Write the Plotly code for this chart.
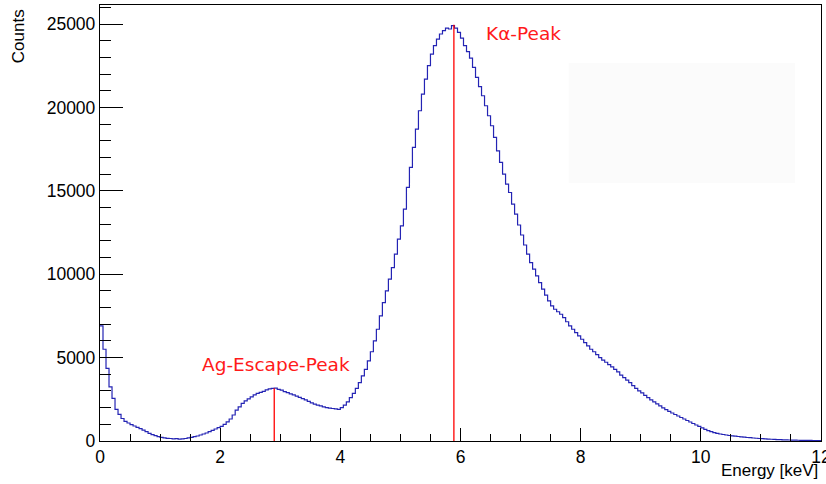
import plotly.graph_objects as go

# ---- data ----
bin_width_kev = 0.05
counts = [
    6900, 5500, 4350, 3250, 2550, 1900, 1600, 1350, 1180, 1080,   # 0.0 - 0.5
    980, 900, 820, 740, 650, 560, 460, 380, 320, 260,             # 0.5 - 1.0
    220, 190, 160, 150, 130, 140, 110, 130, 150, 190,             # 1.0 - 1.5
    220, 260, 300, 360, 420, 480, 560, 640, 720, 800,             # 1.5 - 2.0
    880, 1000, 1150, 1320, 1560, 1850, 2050, 2250, 2400, 2530,    # 2.0 - 2.5
    2650, 2770, 2850, 2920, 2980, 3070, 3120, 3150, 3170, 3100,   # 2.5 - 3.0
    3050, 2960, 2900, 2830, 2770, 2690, 2610, 2540, 2460, 2380,   # 3.0 - 3.5
    2290, 2210, 2150, 2100, 2040, 2000, 1970, 1950, 1930, 1900,   # 3.5 - 4.0
    2000, 2150, 2350, 2600, 2850, 3150, 3500, 3900, 4300, 4800,   # 4.0 - 4.5
    5350, 6000, 6700, 7500, 8300, 9000, 9700, 10400, 11200, 12100,  # 4.5 - 5.0
    12900, 13900, 15200, 16400, 17600, 18700, 19800, 20800, 21700, 22500,  # 5.0 - 5.5
    23200, 23700, 24100, 24400, 24600, 24750, 24700, 24900, 24750, 24500,  # 5.5 - 6.0
    24150, 23700, 23350, 22950, 22400, 21800, 21250, 20700, 20100, 19500,  # 6.0 - 6.5
    18900, 18200, 17400, 16700, 16000, 15400, 14900, 14200, 13600, 12950,  # 6.5 - 7.0
    12350, 11750, 11200, 10700, 10300, 9900, 9500, 9100, 8750, 8400,       # 7.0 - 7.5
    8100, 7900, 7750, 7600, 7400, 7150, 6900, 6700, 6500, 6300,   # 7.5 - 8.0
    6100, 5900, 5700, 5500, 5350, 5180, 5000, 4850, 4720, 4580,   # 8.0 - 8.5
    4450, 4300, 4150, 3950, 3800, 3650, 3500, 3320, 3150, 3000,   # 8.5 - 9.0
    2880, 2740, 2600, 2470, 2340, 2220, 2100, 1980, 1880, 1780,   # 9.0 - 9.5
    1680, 1590, 1500, 1410, 1320, 1230, 1140, 1050, 960, 880,     # 9.5 - 10.0
    790, 700, 620, 560, 500, 460, 420, 390, 360, 330,             # 10.0 - 10.5
    310, 290, 270, 250, 230, 210, 200, 180, 165, 150,             # 10.5 - 11.0
    140, 125, 115, 105, 95, 85, 80, 70, 65, 60,                   # 11.0 - 11.5
    55, 50, 45, 40, 38, 35, 32, 30, 28, 25,                       # 11.5 - 12.0
]

peak_labels = ["Ag-Escape-Peak", "K\u03b1-Peak"]
peak_energies = [2.90, 5.89]
peak_heights = [3170, 24950]
label_x = [1.664, 6.39]
label_y = [4560, 24460]

x_title = "Energy [keV]"
y_title = "Counts"

# ---- build step outline ----
edges = [i * bin_width_kev for i in range(len(counts) + 1)]
step_y = counts + [counts[-1]]

fig = go.Figure()
fig.add_trace(go.Scatter(
    x=edges, y=step_y, mode="lines", line_shape="hv",
    line=dict(color="#2424b4", width=1.2), hoverinfo="skip", showlegend=False,
))

for e, h in zip(peak_energies, peak_heights):
    fig.add_trace(go.Scatter(
        x=[e, e], y=[0, h], mode="lines",
        line=dict(color="#ff0000", width=1.3), hoverinfo="skip", showlegend=False,
    ))

for txt, lx, ly in zip(peak_labels, label_x, label_y):
    fig.add_annotation(
        x=lx, y=ly, xref="x", yref="y", text=txt, showarrow=False,
        xanchor="left", yanchor="middle",
        font=dict(family="DejaVu Sans", size=18.5, color="#ff1a1a"),
    )

# faint empty stats box
fig.add_shape(type="rect", xref="paper", yref="paper",
              x0=0.650, x1=0.964, y0=0.592, y1=0.867,
              line=dict(width=0), fillcolor="#fbfbfb", layer="below")

fig.add_annotation(
    x=-0.1137, y=0.995, xref="paper", yref="paper", text=y_title,
    showarrow=False, textangle=-90, xanchor="center", yanchor="top",
    font=dict(family="Liberation Sans", size=17, color="black"),
)
fig.add_annotation(
    x=0.9986, y=-0.0688, xref="paper", yref="paper", text=x_title,
    showarrow=False, xanchor="right", yanchor="middle",
    font=dict(family="Liberation Sans", size=17, color="black"),
)

tickfont = dict(family="Liberation Sans", size=17.5, color="black")

fig.update_layout(
    width=826, height=484,
    margin=dict(l=100, r=5, t=5, b=43, autoexpand=False),
    paper_bgcolor="white", plot_bgcolor="white",
    showlegend=False,
    xaxis=dict(
        range=[0, 12], showgrid=False, zeroline=False, automargin=False,
        showline=True, mirror=True, linecolor="black", linewidth=1.3,
        ticks="inside", ticklen=13, tickcolor="black", tickwidth=1,
        dtick=2, tick0=0, tickfont=tickfont, tickformat="d",
        ticklabeloverflow="allow",
        minor=dict(dtick=0.5, tick0=0, ticks="inside", ticklen=7, tickcolor="black", showgrid=False),
    ),
    yaxis=dict(
        range=[0, 26140], showgrid=False, zeroline=False, automargin=False,
        showline=True, mirror=True, linecolor="black", linewidth=1.3,
        ticks="inside", ticklen=23, tickcolor="black", tickwidth=1,
        dtick=5000, tick0=0, tickfont=tickfont, tickformat="d",
        minor=dict(dtick=1000, tick0=0, ticks="inside", ticklen=11, tickcolor="black", showgrid=False),
    ),
)

fig.write_html("out.html")
